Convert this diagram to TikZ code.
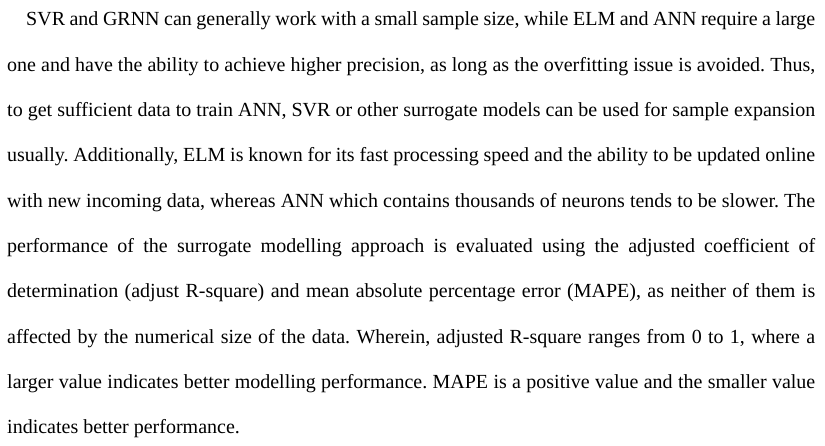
\documentclass[tikz,border=0pt]{standalone}
\usepackage{fontspec}
\setmainfont[Ligatures=NoCommon]{Liberation Serif}
\begin{document}
\begin{tikzpicture}[x=1bp,y=1bp]
\useasboundingbox[fill=white] (0,0) rectangle (825,446);
\node[anchor=base west, inner sep=0pt] (para) at (7,420) {\parbox[t]{808bp}{\fontsize{20bp}{45.3bp}\selectfont\frenchspacing
\rightskip=0pt \parfillskip=0pt plus 1fil \noindent\hspace*{19bp}SVR and GRNN can generally work with a small sample size, while ELM and ANN require a large\linebreak
one and have the ability to achieve higher precision, as long as the overfitting issue is avoided. Thus,\linebreak
to get sufficient data to train ANN, SVR or other surrogate models can be used for sample expansion\linebreak
usually. Additionally, ELM is known for its fast processing speed and the ability to be updated online\linebreak
with new incoming data, whereas ANN which contains thousands of neurons tends to be slower. The\linebreak
performance of the surrogate modelling approach is evaluated using the adjusted coefficient of\linebreak
determination (adjust R-square) and mean absolute percentage error (MAPE), as neither of them is\linebreak
affected by the numerical size of the data. Wherein, adjusted R-square ranges from 0 to 1, where a\linebreak
larger value indicates better modelling performance. MAPE is a positive value and the smaller value\linebreak
indicates better performance.}};
\end{tikzpicture}
\end{document}
